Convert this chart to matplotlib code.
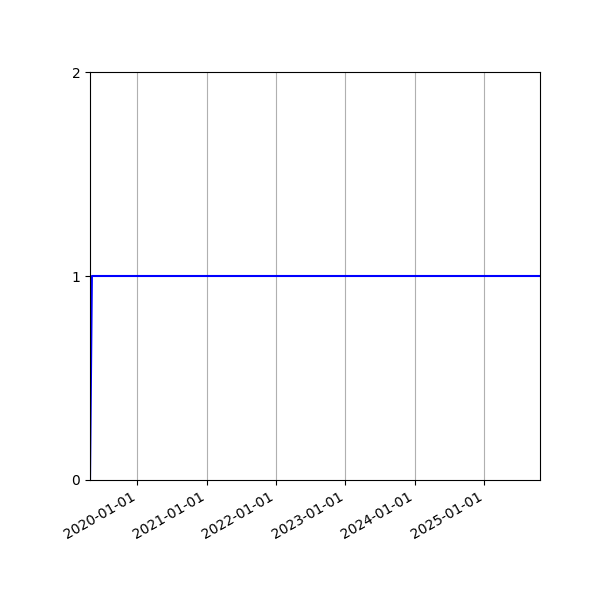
import numpy as np
import pandas as pd
import matplotlib
matplotlib.use("Agg")
import matplotlib.pyplot as plt
import matplotlib.dates as mdates

# dates and values
dates = pd.to_datetime(["2019-04-27", "2019-05-07", "2025-10-21"])
values = [0, 1, 1]

fig, ax = plt.subplots(figsize=(6, 6), dpi=100)
ax.plot(dates, values, color='b')
ax.set_xlim(dates[0], dates[-1])
ax.set_ylim(0, 2)
ax.set_yticks([0, 1, 2])
ax.xaxis.set_major_locator(mdates.YearLocator())
ax.xaxis.set_major_formatter(mdates.DateFormatter('%Y-%m-%d'))
ax.grid(axis='x')
fig.autofmt_xdate()
fig.subplots_adjust(left=0.15, right=0.9, top=0.88, bottom=0.2)
fig.savefig("out.png")
